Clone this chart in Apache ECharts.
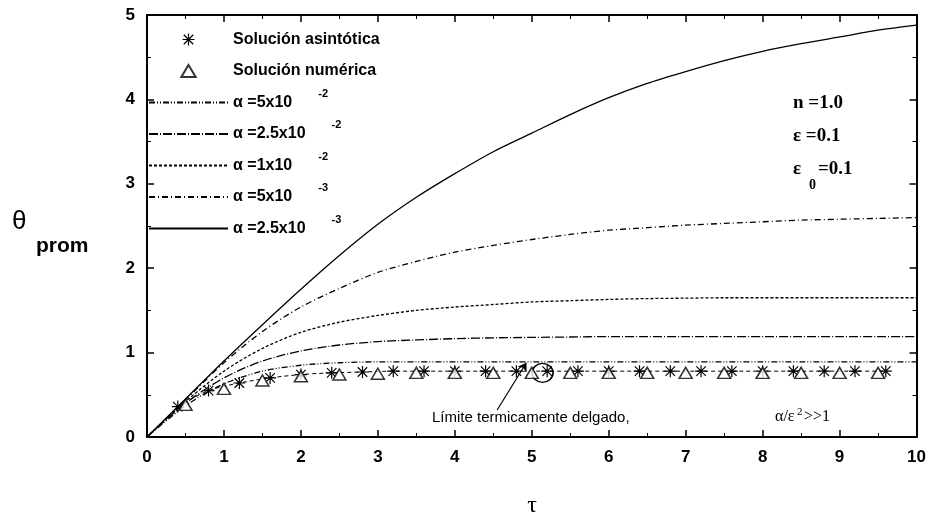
<!DOCTYPE html>
<html>
<head>
<meta charset="utf-8">
<script src="https://cdn.jsdelivr.net/npm/echarts@6/dist/echarts.min.js"></script>
<style>
  html, body { margin: 0; padding: 0; background: #fff; }
  #chart { width: 929px; height: 521px; }
</style>
</head>
<body>
<div id="chart"></div>
<script>
// tau values shared by the alpha curves
const tau = [0, 0.5, 1, 1.5, 2, 2.5, 3, 3.5, 4, 4.5, 5, 5.5, 6, 6.5, 7, 7.5, 8, 8.5, 9, 9.5, 10];
const alpha5e2  = [0, 0.37, 0.63, 0.78, 0.85, 0.88, 0.89, 0.89, 0.89, 0.89, 0.89, 0.89, 0.89, 0.89, 0.89, 0.89, 0.89, 0.89, 0.89, 0.89, 0.89];
const alpha25e2 = [0, 0.40, 0.70, 0.90, 1.02, 1.09, 1.13, 1.15, 1.165, 1.175, 1.18, 1.185, 1.19, 1.19, 1.19, 1.19, 1.19, 1.19, 1.19, 1.19, 1.19];
const alpha1e2  = [0, 0.42, 0.78, 1.05, 1.24, 1.36, 1.44, 1.50, 1.54, 1.57, 1.60, 1.615, 1.63, 1.64, 1.645, 1.65, 1.65, 1.65, 1.65, 1.65, 1.65];
const alpha5e3  = [0, 0.44, 0.88, 1.25, 1.54, 1.76, 1.95, 2.08, 2.19, 2.27, 2.34, 2.40, 2.45, 2.48, 2.51, 2.53, 2.55, 2.57, 2.58, 2.59, 2.60];
const alpha25e3 = [0, 0.45, 0.90, 1.33, 1.75, 2.15, 2.52, 2.84, 3.12, 3.38, 3.60, 3.82, 4.02, 4.19, 4.33, 4.46, 4.57, 4.66, 4.74, 4.82, 4.88];

// asymptotic solution (stars) and numeric solution (triangles)
const tauStar = [0.4, 0.8, 1.2, 1.6, 2.0, 2.4, 2.8, 3.2, 3.6, 4.0, 4.4, 4.8, 5.2, 5.6, 6.0, 6.4, 6.8, 7.2, 7.6, 8.0, 8.4, 8.8, 9.2, 9.6];
const starVals = [0.36, 0.55, 0.64, 0.70, 0.74, 0.76, 0.77, 0.78, 0.78, 0.78, 0.78, 0.78, 0.78, 0.78, 0.78, 0.78, 0.78, 0.78, 0.78, 0.78, 0.78, 0.78, 0.78, 0.78];
const tauTri = [0.5, 1.0, 1.5, 2.0, 2.5, 3.0, 3.5, 4.0, 4.5, 5.0, 5.5, 6.0, 6.5, 7.0, 7.5, 8.0, 8.5, 9.0, 9.5];
const triVals = [0.38, 0.57, 0.67, 0.72, 0.74, 0.75, 0.76, 0.76, 0.76, 0.76, 0.76, 0.76, 0.76, 0.76, 0.76, 0.76, 0.76, 0.76, 0.76];

const alphaBase = ['5x10', '2.5x10', '1x10', '5x10', '2.5x10'];
const alphaExp = ['-2', '-2', '-2', '-3', '-3'];
const alphaData = [alpha5e2, alpha25e2, alpha1e2, alpha5e3, alpha25e3];
const alphaDash = [[6, 2, 1, 2, 1, 2], [9, 2, 1, 2], [3, 2], [6, 3, 1, 3], 'solid'];

const xTicks = [0, 10, 1];
const yTicks = [0, 5, 1];

const STAR = 'path://M9 0L11 0L11 20L9 20Z M0 9L20 9L20 11L0 11Z M1.4 2.8L2.8 1.4L18.6 17.2L17.2 18.6Z M17.2 1.4L18.6 2.8L2.8 18.6L1.4 17.2Z';
const TRI = 'path://M6 0L12 10L0 10Z';
const SANS = 'Liberation Sans, Arial, sans-serif';
const SERIF = 'Liberation Serif, Times New Roman, serif';

const pair = (xs, ys) => xs.map((x, i) => [x, ys[i]]);
const alphaName = i => 'α =' + alphaBase[i] + '^' + alphaExp[i];

function axis(pos, showLabel, ticks) {
  return {
    type: 'value',
    position: pos,
    min: ticks[0],
    max: ticks[1],
    interval: ticks[2],
    axisLine: { show: true, onZero: false, lineStyle: { color: '#000', width: 2 } },
    axisTick: { show: true, inside: true, length: 7, lineStyle: { color: '#000', width: 1.5 } },
    minorTick: { show: true, splitNumber: 2, length: 4, lineStyle: { color: '#000', width: 1 } },
    splitLine: { show: false },
    axisLabel: {
      show: showLabel,
      color: '#000',
      fontFamily: SANS,
      fontWeight: 'bold',
      fontSize: 17,
      margin: 12
    }
  };
}

const series = [
  {
    name: 'Solución asintótica',
    type: 'line',
    data: pair(tauStar, starVals),
    symbol: STAR,
    symbolSize: 12,
    smooth: 0.3,
    itemStyle: { color: '#000' },
    lineStyle: { color: '#000', width: 1, type: [4, 3] },
    z: 5
  },
  {
    name: 'Solución numérica',
    type: 'scatter',
    data: pair(tauTri, triVals),
    symbol: TRI,
    symbolSize: [13, 11],
    itemStyle: { color: '#fff', borderColor: '#000', borderWidth: 1.5 },
    z: 6,
    markLine: {
      silent: true,
      symbol: ['none', 'arrow'],
      symbolSize: 8,
      label: { show: false },
      lineStyle: { color: '#000', width: 1.2, type: 'solid' },
      data: [[{ coord: [4.55, 0.32] }, { coord: [4.93, 0.88] }]]
    },
    markPoint: {
      silent: true,
      symbol: 'circle',
      symbolSize: [21, 19],
      label: { show: false },
      itemStyle: { color: 'rgba(0,0,0,0)', borderColor: '#000', borderWidth: 1.5 },
      data: [{ coord: [5.14, 0.76] }]
    }
  }
];
alphaData.forEach((vals, i) => {
  series.push({
    name: alphaName(i),
    type: 'line',
    data: pair(tau, vals),
    symbol: 'none',
    smooth: 0.3,
    itemStyle: { color: '#000' },
    lineStyle: { color: '#000', width: 1.3, type: alphaDash[i] }
  });
});

const option = {
  backgroundColor: '#fff',
  animation: false,
  grid: { left: 147, right: 12, top: 15, bottom: 84 },
  xAxis: [axis('bottom', true, xTicks), axis('top', false, xTicks)],
  yAxis: [axis('left', true, yTicks), axis('right', false, yTicks)],
  legend: {
    orient: 'vertical',
    left: 148,
    top: 25,
    padding: 0,
    itemWidth: 79,
    itemHeight: 12,
    itemGap: 9,
    data: [
      { name: 'Solución asintótica', icon: STAR },
      { name: 'Solución numérica', icon: TRI }
    ].concat(alphaBase.map((b, i) => ({ name: alphaName(i), itemStyle: { opacity: 0 } }))),
    formatter: name => {
      const parts = name.split('^');
      return '{a|' + parts[0] + '}{s|' + (parts[1] || ' ') + '}';
    },
    textStyle: {
      color: '#000',
      fontFamily: SANS,
      fontWeight: 'bold',
      fontSize: 16,
      rich: {
        a: { fontFamily: SANS, fontWeight: 'bold', fontSize: 16, color: '#000' },
        s: { fontFamily: SANS, fontWeight: 'bold', fontSize: 11, color: '#000', padding: [0, 0, 18, 26] }
      }
    }
  },
  graphic: [
    { type: 'text', x: 12, y: 222, style: { text: 'θ', font: '26px ' + SANS, fill: '#000', textVerticalAlign: 'middle' } },
    { type: 'text', x: 36, y: 246, style: { text: 'prom', font: 'bold 21px ' + SANS, fill: '#000', textVerticalAlign: 'middle' } },
    { type: 'text', x: 532, y: 506, style: { text: 'τ', font: '24px ' + SERIF, fill: '#000', textAlign: 'center', textVerticalAlign: 'middle' } },
    { type: 'text', x: 793, y: 103, style: { text: 'n =1.0', font: 'bold 19px ' + SERIF, fill: '#000', textVerticalAlign: 'middle' } },
    { type: 'text', x: 793, y: 136, style: { text: 'ε =0.1', font: 'bold 19px ' + SERIF, fill: '#000', textVerticalAlign: 'middle' } },
    { type: 'text', x: 793, y: 169, style: { text: 'ε', font: 'bold 19px ' + SERIF, fill: '#000', textVerticalAlign: 'middle' } },
    { type: 'text', x: 809, y: 185, style: { text: '0', font: 'bold 14px ' + SERIF, fill: '#000', textVerticalAlign: 'middle' } },
    { type: 'text', x: 818, y: 169, style: { text: '=0.1', font: 'bold 19px ' + SERIF, fill: '#000', textVerticalAlign: 'middle' } },
    { type: 'text', x: 432, y: 418, style: { text: 'Límite termicamente delgado,', font: '15px ' + SANS, fill: '#000', textVerticalAlign: 'middle' } },
    { type: 'text', x: 775, y: 417, style: { text: 'α/ε', font: '16px ' + SERIF, fill: '#000', textVerticalAlign: 'middle' } },
    { type: 'text', x: 797, y: 412, style: { text: '2', font: '11px ' + SERIF, fill: '#000', textVerticalAlign: 'middle' } },
    { type: 'text', x: 804, y: 417, style: { text: '>>1', font: '16px ' + SERIF, fill: '#000', textVerticalAlign: 'middle' } }
  ],
  series: series
};

const myChart = echarts.init(document.getElementById('chart'));
myChart.setOption(option);
</script>
</body>
</html>
